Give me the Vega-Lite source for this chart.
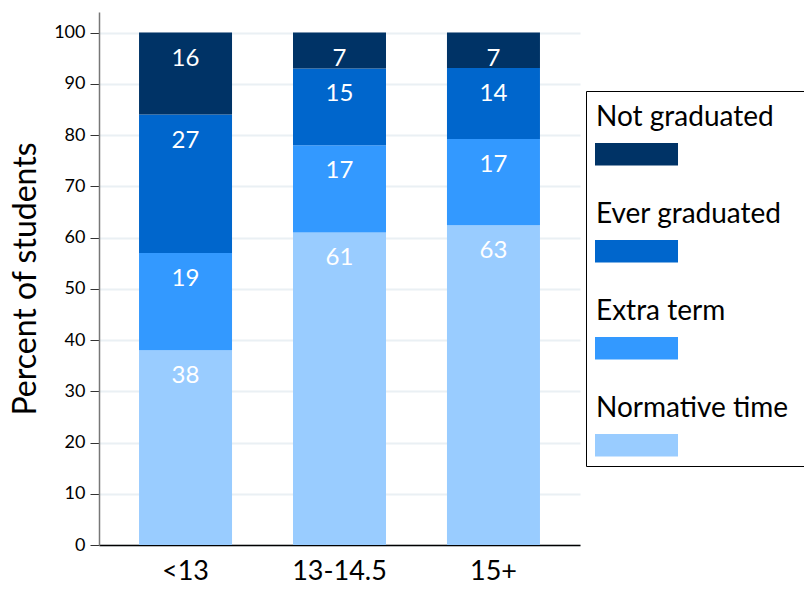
{
  "$schema": "https://vega.github.io/schema/vega-lite/v6.json",
  "autosize": {"type": "none"},
  "width": 481,
  "height": 533,
  "padding": {"left": 99, "top": 12, "right": 224, "bottom": 50},
  "background": "white",
  "config": {
    "font": "Lato",
    "view": {"stroke": null},
    "axis": {"labelColor": "black", "titleColor": "black", "titleFontWeight": "normal"}
  },
  "data": {
    "values": [
      {"group": "<13", "status": "Normative time", "k": 1, "pct": 38},
      {"group": "<13", "status": "Extra term", "k": 2, "pct": 19},
      {"group": "<13", "status": "Ever graduated", "k": 3, "pct": 27},
      {"group": "<13", "status": "Not graduated", "k": 4, "pct": 16},
      {"group": "13-14.5", "status": "Normative time", "k": 1, "pct": 61},
      {"group": "13-14.5", "status": "Extra term", "k": 2, "pct": 17},
      {"group": "13-14.5", "status": "Ever graduated", "k": 3, "pct": 15},
      {"group": "13-14.5", "status": "Not graduated", "k": 4, "pct": 7},
      {"group": "15+", "status": "Normative time", "k": 1, "pct": 63},
      {"group": "15+", "status": "Extra term", "k": 2, "pct": 17},
      {"group": "15+", "status": "Ever graduated", "k": 3, "pct": 14},
      {"group": "15+", "status": "Not graduated", "k": 4, "pct": 7}
    ]
  },
  "encoding": {
    "x": {
      "field": "group",
      "type": "nominal",
      "sort": ["<13", "13-14.5", "15+"],
      "scale": {"paddingInner": 0.396, "paddingOuter": 0.26},
      "axis": {
        "title": null,
        "labelAngle": 0,
        "labelFontSize": 27,
        "labelPadding": 13,
        "ticks": false,
        "domainColor": "black",
        "domainWidth": 1.5,
        "grid": false
      }
    },
    "y": {
      "field": "pct",
      "type": "quantitative",
      "stack": "normalize",
      "scale": {"domain": [0, 1.04], "nice": false},
      "axis": {
        "title": "Percent of students",
        "titleFontSize": 32,
        "titlePadding": 11,
        "values": [0, 0.1, 0.2, 0.3, 0.4, 0.5, 0.6, 0.7, 0.8, 0.9, 1],
        "labelExpr": "format(datum.value * 100, 'd')",
        "labelFontSize": 18,
        "labelPadding": 5,
        "tickSize": 9,
        "tickColor": "#333333",
        "domainColor": "#777777",
        "domainWidth": 1.5,
        "grid": true,
        "gridColor": "#eaf0f4",
        "gridWidth": 2
      }
    },
    "order": {"field": "k", "type": "quantitative"}
  },
  "layer": [
    {
      "mark": {"type": "bar"},
      "encoding": {
        "color": {
          "field": "status",
          "type": "nominal",
          "scale": {
            "domain": ["Not graduated", "Ever graduated", "Extra term", "Normative time"],
            "range": ["#003366", "#0066cc", "#3399ff", "#99ccff"]
          },
          "legend": {
            "orient": "none",
            "legendX": 487,
            "legendY": 79,
            "title": " ",
            "titleOrient": "right",
            "titleFontSize": 28,
            "titlePadding": 12,
            "fillColor": "white",
            "strokeColor": "black",
            "padding": 9,
            "labelFontSize": 28,
            "labelColor": "black",
            "labelLimit": 300,
            "labelOffset": -63,
            "labelBaseline": "bottom",
            "symbolType": "M-1,0.344H1.594V1.047H-1Z",
            "symbolSize": 4096,
            "symbolStrokeWidth": 0,
            "symbolOpacity": 1,
            "rowPadding": 31
          }
        }
      }
    },
    {
      "mark": {"type": "text", "color": "white", "fontSize": 24, "baseline": "middle", "dy": 26},
      "encoding": {
        "text": {"field": "pct", "type": "quantitative"},
        "detail": {"field": "status"}
      }
    }
  ]
}
